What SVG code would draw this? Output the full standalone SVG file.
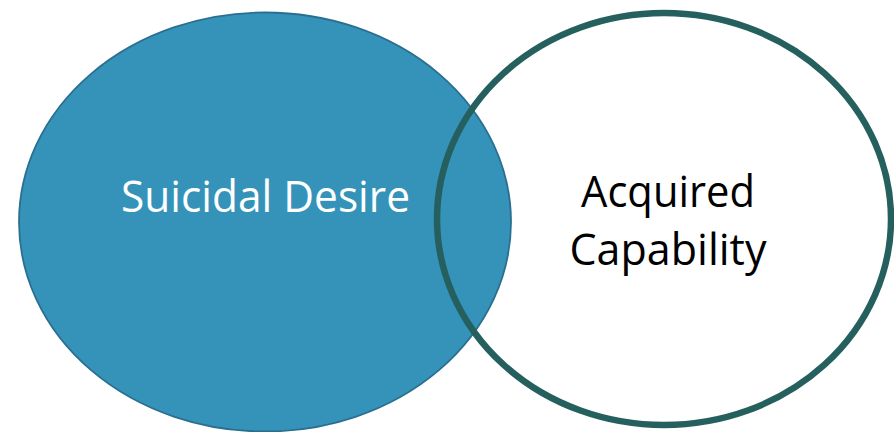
<svg xmlns="http://www.w3.org/2000/svg" width="894" height="432" viewBox="0 0 894 432">
  <style>
    .label { font-family: "Open Sans", "Noto Sans", "Liberation Sans", sans-serif; font-size: 43px; text-anchor: middle; }
  </style>
  <rect width="894" height="432" fill="#ffffff"/>
  <!-- white body of the right set, drawn under the left set -->
  <ellipse cx="664" cy="219" rx="227" ry="206" fill="#ffffff"/>
  <g id="desire">
    <ellipse cx="265" cy="222" rx="246" ry="209.5" fill="#3593BA" stroke="#2A6F90" stroke-width="1.8"/>
    <text class="label" x="265.5" y="212" fill="#ffffff" textLength="289" lengthAdjust="spacingAndGlyphs">Suicidal Desire</text>
  </g>
  <g id="capability">
    <ellipse cx="664" cy="219" rx="227" ry="206" fill="none" stroke="#25605F" stroke-width="6.5"/>
    <text class="label" x="668" y="207" fill="#000000" textLength="174" lengthAdjust="spacingAndGlyphs">Acquired</text>
    <text class="label" x="668" y="265" fill="#000000" textLength="197" lengthAdjust="spacingAndGlyphs">Capability</text>
  </g>
</svg>
